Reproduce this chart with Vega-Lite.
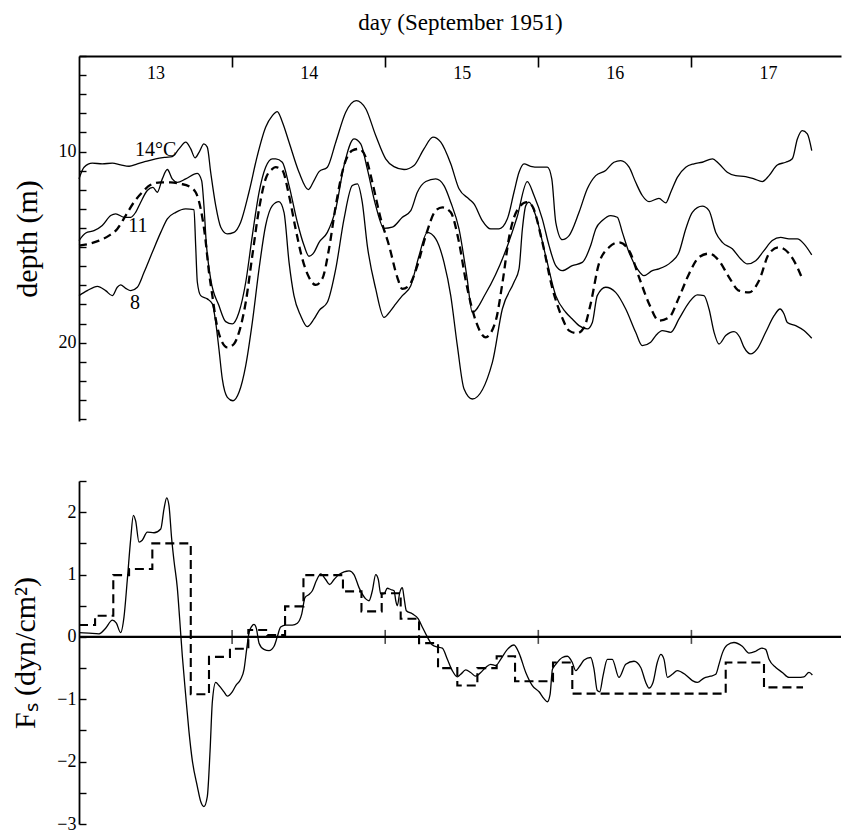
{
  "$schema": "https://vega.github.io/schema/vega-lite/v6.json",
  "background": "white",
  "padding": {"left": 10, "top": 11, "right": 0, "bottom": 0},
  "spacing": 43,
  "config": {
    "font": "Liberation Serif",
    "view": {"stroke": null},
    "axis": {"grid": false, "domainColor": "black", "tickColor": "black", "labelColor": "black", "titleColor": "black", "labelFont": "Liberation Serif", "titleFont": "Liberation Serif", "titleFontWeight": "normal", "labelOverlap": false, "labelFlush": false}
  },
  "datasets": {
    "iso": [
      {"s":"14","day":13.000,"depth":11.43},{"s":"14","day":13.033,"depth":10.82},{"s":"14","day":13.087,"depth":10.61},{"s":"14","day":13.152,"depth":10.64},{"s":"14","day":13.218,"depth":10.61},{"s":"14","day":13.272,"depth":10.70},{"s":"14","day":13.327,"depth":10.77},{"s":"14","day":13.381,"depth":10.64},{"s":"14","day":13.436,"depth":10.52},{"s":"14","day":13.501,"depth":10.38},{"s":"14","day":13.566,"depth":10.30},{"s":"14","day":13.609,"depth":10.26},{"s":"14","day":13.653,"depth":9.86},{"s":"14","day":13.697,"depth":9.51},{"s":"14","day":13.730,"depth":9.86},{"s":"14","day":13.758,"depth":10.33},{"s":"14","day":13.784,"depth":10.04},{"s":"14","day":13.816,"depth":9.60},{"s":"14","day":13.838,"depth":9.77},{"s":"14","day":13.860,"depth":11.08},{"s":"14","day":13.893,"depth":12.83},{"s":"14","day":13.926,"depth":13.96},{"s":"14","day":13.969,"depth":14.31},{"s":"14","day":14.012,"depth":14.23},{"s":"14","day":14.056,"depth":13.70},{"s":"14","day":14.110,"depth":12.13},{"s":"14","day":14.165,"depth":10.21},{"s":"14","day":14.219,"depth":8.73},{"s":"14","day":14.263,"depth":8.12},{"s":"14","day":14.295,"depth":7.91},{"s":"14","day":14.328,"depth":8.45},{"s":"14","day":14.372,"depth":9.51},{"s":"14","day":14.437,"depth":11.08},{"s":"14","day":14.498,"depth":11.99},{"s":"14","day":14.535,"depth":11.52},{"s":"14","day":14.568,"depth":11.05},{"s":"14","day":14.622,"depth":10.82},{"s":"14","day":14.677,"depth":9.51},{"s":"14","day":14.742,"depth":7.94},{"s":"14","day":14.811,"depth":7.33},{"s":"14","day":14.873,"depth":7.76},{"s":"14","day":14.938,"depth":9.16},{"s":"14","day":15.003,"depth":10.38},{"s":"14","day":15.057,"depth":10.79},{"s":"14","day":15.123,"depth":10.94},{"s":"14","day":15.188,"depth":10.73},{"s":"14","day":15.253,"depth":9.86},{"s":"14","day":15.312,"depth":9.25},{"s":"14","day":15.363,"depth":9.51},{"s":"14","day":15.428,"depth":10.64},{"s":"14","day":15.482,"depth":11.95},{"s":"14","day":15.547,"depth":12.48},{"s":"14","day":15.580,"depth":12.74},{"s":"14","day":15.634,"depth":13.61},{"s":"14","day":15.689,"depth":14.05},{"s":"14","day":15.743,"depth":14.05},{"s":"14","day":15.798,"depth":13.52},{"s":"14","day":15.841,"depth":12.13},{"s":"14","day":15.874,"depth":11.08},{"s":"14","day":15.907,"depth":10.64},{"s":"14","day":15.950,"depth":10.77},{"s":"14","day":16.005,"depth":10.82},{"s":"14","day":16.059,"depth":10.82},{"s":"14","day":16.088,"depth":11.43},{"s":"14","day":16.114,"depth":13.70},{"s":"14","day":16.157,"depth":14.61},{"s":"14","day":16.201,"depth":14.40},{"s":"14","day":16.266,"depth":13.18},{"s":"14","day":16.320,"depth":11.95},{"s":"14","day":16.375,"depth":11.26},{"s":"14","day":16.440,"depth":10.99},{"s":"14","day":16.494,"depth":10.56},{"s":"14","day":16.538,"depth":10.47},{"s":"14","day":16.593,"depth":10.82},{"s":"14","day":16.636,"depth":11.61},{"s":"14","day":16.679,"depth":12.30},{"s":"14","day":16.723,"depth":12.62},{"s":"14","day":16.788,"depth":12.45},{"s":"14","day":16.832,"depth":12.69},{"s":"14","day":16.865,"depth":12.13},{"s":"14","day":16.908,"depth":11.35},{"s":"14","day":16.963,"depth":10.82},{"s":"14","day":17.017,"depth":10.64},{"s":"14","day":17.071,"depth":10.56},{"s":"14","day":17.137,"depth":10.38},{"s":"14","day":17.180,"depth":10.64},{"s":"14","day":17.234,"depth":11.08},{"s":"14","day":17.289,"depth":11.26},{"s":"14","day":17.354,"depth":11.31},{"s":"14","day":17.409,"depth":11.43},{"s":"14","day":17.463,"depth":11.57},{"s":"14","day":17.507,"depth":11.26},{"s":"14","day":17.561,"depth":10.70},{"s":"14","day":17.616,"depth":10.56},{"s":"14","day":17.659,"depth":10.38},{"s":"14","day":17.692,"depth":9.34},{"s":"14","day":17.724,"depth":8.90},{"s":"14","day":17.757,"depth":9.07},{"s":"14","day":17.786,"depth":9.95},
      {"s":"11","day":13.000,"depth":14.66},{"s":"11","day":13.044,"depth":14.26},{"s":"11","day":13.098,"depth":14.14},{"s":"11","day":13.152,"depth":13.87},{"s":"11","day":13.207,"depth":13.35},{"s":"11","day":13.240,"depth":13.26},{"s":"11","day":13.294,"depth":13.44},{"s":"11","day":13.338,"depth":13.44},{"s":"11","day":13.370,"depth":13.18},{"s":"11","day":13.403,"depth":12.65},{"s":"11","day":13.446,"depth":12.04},{"s":"11","day":13.483,"depth":11.87},{"s":"11","day":13.511,"depth":12.13},{"s":"11","day":13.544,"depth":11.43},{"s":"11","day":13.577,"depth":10.94},{"s":"11","day":13.609,"depth":11.43},{"s":"11","day":13.642,"depth":11.61},{"s":"11","day":13.697,"depth":11.43},{"s":"11","day":13.773,"depth":11.14},{"s":"11","day":13.801,"depth":11.52},{"s":"11","day":13.816,"depth":12.83},{"s":"11","day":13.831,"depth":14.75},{"s":"11","day":13.860,"depth":16.66},{"s":"11","day":13.914,"depth":18.06},{"s":"11","day":13.958,"depth":18.90},{"s":"11","day":14.001,"depth":19.02},{"s":"11","day":14.045,"depth":18.41},{"s":"11","day":14.089,"depth":16.84},{"s":"11","day":14.132,"depth":14.40},{"s":"11","day":14.176,"depth":12.13},{"s":"11","day":14.219,"depth":10.82},{"s":"11","day":14.263,"depth":10.38},{"s":"11","day":14.285,"depth":10.38},{"s":"11","day":14.328,"depth":10.56},{"s":"11","day":14.372,"depth":11.78},{"s":"11","day":14.426,"depth":13.70},{"s":"11","day":14.470,"depth":14.92},{"s":"11","day":14.502,"depth":15.48},{"s":"11","day":14.535,"depth":15.27},{"s":"11","day":14.568,"depth":14.75},{"s":"11","day":14.622,"depth":14.23},{"s":"11","day":14.677,"depth":13.00},{"s":"11","day":14.731,"depth":10.73},{"s":"11","day":14.796,"depth":9.34},{"s":"11","day":14.840,"depth":9.60},{"s":"11","day":14.883,"depth":10.91},{"s":"11","day":14.938,"depth":12.83},{"s":"11","day":14.992,"depth":14.02},{"s":"11","day":15.046,"depth":13.96},{"s":"11","day":15.112,"depth":13.44},{"s":"11","day":15.167,"depth":13.09},{"s":"11","day":15.210,"depth":12.13},{"s":"11","day":15.265,"depth":11.57},{"s":"11","day":15.330,"depth":11.43},{"s":"11","day":15.384,"depth":11.78},{"s":"11","day":15.428,"depth":12.65},{"s":"11","day":15.482,"depth":14.05},{"s":"11","day":15.534,"depth":16.58},{"s":"11","day":15.569,"depth":18.41},{"s":"11","day":15.656,"depth":17.43},{"s":"11","day":15.787,"depth":15.18},{"s":"11","day":15.861,"depth":13.44},{"s":"11","day":15.928,"depth":11.57},{"s":"11","day":15.972,"depth":12.30},{"s":"11","day":16.026,"depth":13.52},{"s":"11","day":16.070,"depth":14.92},{"s":"11","day":16.114,"depth":15.97},{"s":"11","day":16.157,"depth":16.23},{"s":"11","day":16.222,"depth":15.97},{"s":"11","day":16.287,"depth":15.80},{"s":"11","day":16.342,"depth":14.92},{"s":"11","day":16.375,"depth":14.05},{"s":"11","day":16.418,"depth":13.61},{"s":"11","day":16.473,"depth":13.35},{"s":"11","day":16.516,"depth":13.44},{"s":"11","day":16.549,"depth":14.23},{"s":"11","day":16.592,"depth":15.27},{"s":"11","day":16.647,"depth":16.14},{"s":"11","day":16.690,"depth":16.49},{"s":"11","day":16.745,"depth":16.23},{"s":"11","day":16.788,"depth":16.14},{"s":"11","day":16.865,"depth":15.80},{"s":"11","day":16.919,"depth":15.27},{"s":"11","day":16.963,"depth":14.05},{"s":"11","day":17.006,"depth":13.18},{"s":"11","day":17.071,"depth":12.86},{"s":"11","day":17.115,"depth":13.09},{"s":"11","day":17.159,"depth":14.23},{"s":"11","day":17.202,"depth":14.75},{"s":"11","day":17.267,"depth":15.09},{"s":"11","day":17.322,"depth":15.62},{"s":"11","day":17.365,"depth":15.88},{"s":"11","day":17.420,"depth":15.71},{"s":"11","day":17.474,"depth":15.18},{"s":"11","day":17.528,"depth":14.66},{"s":"11","day":17.583,"depth":14.49},{"s":"11","day":17.637,"depth":14.57},{"s":"11","day":17.692,"depth":14.57},{"s":"11","day":17.735,"depth":14.83},{"s":"11","day":17.786,"depth":15.41},
      {"s":"d","day":13.000,"depth":14.92},{"s":"d","day":13.065,"depth":14.83},{"s":"d","day":13.131,"depth":14.66},{"s":"d","day":13.196,"depth":14.40},{"s":"d","day":13.250,"depth":14.05},{"s":"d","day":13.305,"depth":13.35},{"s":"d","day":13.359,"depth":12.65},{"s":"d","day":13.413,"depth":12.13},{"s":"d","day":13.468,"depth":11.74},{"s":"d","day":13.534,"depth":11.61},{"s":"d","day":13.599,"depth":11.61},{"s":"d","day":13.664,"depth":11.69},{"s":"d","day":13.718,"depth":11.82},{"s":"d","day":13.762,"depth":12.13},{"s":"d","day":13.795,"depth":13.00},{"s":"d","day":13.823,"depth":14.40},{"s":"d","day":13.849,"depth":16.32},{"s":"d","day":13.871,"depth":17.54},{"s":"d","day":13.893,"depth":18.76},{"s":"d","day":13.926,"depth":19.81},{"s":"d","day":13.969,"depth":20.25},{"s":"d","day":14.012,"depth":20.07},{"s":"d","day":14.045,"depth":19.46},{"s":"d","day":14.089,"depth":17.89},{"s":"d","day":14.132,"depth":15.45},{"s":"d","day":14.176,"depth":13.00},{"s":"d","day":14.219,"depth":11.43},{"s":"d","day":14.263,"depth":10.91},{"s":"d","day":14.285,"depth":10.82},{"s":"d","day":14.328,"depth":10.99},{"s":"d","day":14.372,"depth":12.30},{"s":"d","day":14.415,"depth":14.05},{"s":"d","day":14.459,"depth":15.62},{"s":"d","day":14.502,"depth":16.58},{"s":"d","day":14.546,"depth":16.98},{"s":"d","day":14.589,"depth":16.66},{"s":"d","day":14.633,"depth":15.09},{"s":"d","day":14.677,"depth":12.83},{"s":"d","day":14.731,"depth":10.73},{"s":"d","day":14.785,"depth":9.95},{"s":"d","day":14.829,"depth":9.86},{"s":"d","day":14.873,"depth":10.30},{"s":"d","day":14.916,"depth":11.61},{"s":"d","day":14.971,"depth":13.52},{"s":"d","day":15.025,"depth":14.92},{"s":"d","day":15.079,"depth":16.58},{"s":"d","day":15.112,"depth":17.19},{"s":"d","day":15.155,"depth":17.02},{"s":"d","day":15.210,"depth":15.97},{"s":"d","day":15.265,"depth":14.40},{"s":"d","day":15.330,"depth":13.09},{"s":"d","day":15.373,"depth":12.92},{"s":"d","day":15.428,"depth":13.18},{"s":"d","day":15.482,"depth":14.75},{"s":"d","day":15.526,"depth":16.75},{"s":"d","day":15.591,"depth":18.85},{"s":"d","day":15.656,"depth":19.72},{"s":"d","day":15.722,"depth":18.85},{"s":"d","day":15.765,"depth":16.91},{"s":"d","day":15.809,"depth":14.49},{"s":"d","day":15.874,"depth":12.92},{"s":"d","day":15.926,"depth":12.65},{"s":"d","day":15.959,"depth":12.83},{"s":"d","day":16.024,"depth":14.66},{"s":"d","day":16.090,"depth":17.10},{"s":"d","day":16.155,"depth":18.68},{"s":"d","day":16.201,"depth":19.37},{"s":"d","day":16.253,"depth":19.51},{"s":"d","day":16.299,"depth":19.20},{"s":"d","day":16.342,"depth":17.96},{"s":"d","day":16.396,"depth":15.86},{"s":"d","day":16.462,"depth":15.01},{"s":"d","day":16.527,"depth":14.75},{"s":"d","day":16.593,"depth":15.18},{"s":"d","day":16.658,"depth":16.58},{"s":"d","day":16.723,"depth":17.96},{"s":"d","day":16.788,"depth":18.85},{"s":"d","day":16.854,"depth":18.68},{"s":"d","day":16.919,"depth":17.63},{"s":"d","day":16.985,"depth":16.39},{"s":"d","day":17.050,"depth":15.53},{"s":"d","day":17.115,"depth":15.34},{"s":"d","day":17.180,"depth":15.71},{"s":"d","day":17.246,"depth":16.58},{"s":"d","day":17.311,"depth":17.28},{"s":"d","day":17.377,"depth":17.37},{"s":"d","day":17.442,"depth":16.75},{"s":"d","day":17.507,"depth":15.34},{"s":"d","day":17.572,"depth":15.01},{"s":"d","day":17.638,"depth":15.34},{"s":"d","day":17.692,"depth":16.06},{"s":"d","day":17.724,"depth":16.66},
      {"s":"8","day":13.000,"depth":17.54},{"s":"8","day":13.054,"depth":17.28},{"s":"8","day":13.120,"depth":17.05},{"s":"8","day":13.174,"depth":17.28},{"s":"8","day":13.218,"depth":17.54},{"s":"8","day":13.250,"depth":17.10},{"s":"8","day":13.272,"depth":16.98},{"s":"8","day":13.305,"depth":17.16},{"s":"8","day":13.338,"depth":17.28},{"s":"8","day":13.381,"depth":17.10},{"s":"8","day":13.425,"depth":16.32},{"s":"8","day":13.479,"depth":15.27},{"s":"8","day":13.534,"depth":14.23},{"s":"8","day":13.577,"depth":13.52},{"s":"8","day":13.632,"depth":13.18},{"s":"8","day":13.697,"depth":13.00},{"s":"8","day":13.751,"depth":13.04},{"s":"8","day":13.762,"depth":14.92},{"s":"8","day":13.773,"depth":16.84},{"s":"8","day":13.795,"depth":17.54},{"s":"8","day":13.838,"depth":17.71},{"s":"8","day":13.871,"depth":17.97},{"s":"8","day":13.893,"depth":18.94},{"s":"8","day":13.914,"depth":20.33},{"s":"8","day":13.936,"depth":21.90},{"s":"8","day":13.969,"depth":22.86},{"s":"8","day":14.006,"depth":23.04},{"s":"8","day":14.045,"depth":22.60},{"s":"8","day":14.089,"depth":21.20},{"s":"8","day":14.132,"depth":18.94},{"s":"8","day":14.176,"depth":16.14},{"s":"8","day":14.219,"depth":13.87},{"s":"8","day":14.263,"depth":12.83},{"s":"8","day":14.306,"depth":12.62},{"s":"8","day":14.339,"depth":13.18},{"s":"8","day":14.372,"depth":15.80},{"s":"8","day":14.404,"depth":17.54},{"s":"8","day":14.448,"depth":18.59},{"s":"8","day":14.491,"depth":19.16},{"s":"8","day":14.535,"depth":18.76},{"s":"8","day":14.568,"depth":18.32},{"s":"8","day":14.622,"depth":17.89},{"s":"8","day":14.677,"depth":16.14},{"s":"8","day":14.731,"depth":13.52},{"s":"8","day":14.785,"depth":11.78},{"s":"8","day":14.818,"depth":11.69},{"s":"8","day":14.850,"depth":12.65},{"s":"8","day":14.883,"depth":14.92},{"s":"8","day":14.938,"depth":17.19},{"s":"8","day":14.992,"depth":18.68},{"s":"8","day":15.036,"depth":18.32},{"s":"8","day":15.069,"depth":17.97},{"s":"8","day":15.112,"depth":17.54},{"s":"8","day":15.167,"depth":17.02},{"s":"8","day":15.221,"depth":15.45},{"s":"8","day":15.275,"depth":14.23},{"s":"8","day":15.330,"depth":14.57},{"s":"8","day":15.384,"depth":15.80},{"s":"8","day":15.428,"depth":17.54},{"s":"8","day":15.471,"depth":20.16},{"s":"8","day":15.515,"depth":22.43},{"s":"8","day":15.569,"depth":22.95},{"s":"8","day":15.700,"depth":21.03},{"s":"8","day":15.765,"depth":18.24},{"s":"8","day":15.841,"depth":16.84},{"s":"8","day":15.874,"depth":16.14},{"s":"8","day":15.896,"depth":14.05},{"s":"8","day":15.918,"depth":12.83},{"s":"8","day":15.939,"depth":12.65},{"s":"8","day":15.983,"depth":13.35},{"s":"8","day":16.048,"depth":15.45},{"s":"8","day":16.114,"depth":17.54},{"s":"8","day":16.179,"depth":18.41},{"s":"8","day":16.222,"depth":18.76},{"s":"8","day":16.266,"depth":19.11},{"s":"8","day":16.320,"depth":19.28},{"s":"8","day":16.353,"depth":18.94},{"s":"8","day":16.385,"depth":17.54},{"s":"8","day":16.440,"depth":17.10},{"s":"8","day":16.505,"depth":17.37},{"s":"8","day":16.571,"depth":18.24},{"s":"8","day":16.636,"depth":19.46},{"s":"8","day":16.679,"depth":20.16},{"s":"8","day":16.734,"depth":19.98},{"s":"8","day":16.767,"depth":19.63},{"s":"8","day":16.810,"depth":19.37},{"s":"8","day":16.865,"depth":19.46},{"s":"8","day":16.919,"depth":18.76},{"s":"8","day":16.985,"depth":17.89},{"s":"8","day":17.039,"depth":17.50},{"s":"8","day":17.082,"depth":17.54},{"s":"8","day":17.115,"depth":18.24},{"s":"8","day":17.148,"depth":19.46},{"s":"8","day":17.180,"depth":20.07},{"s":"8","day":17.224,"depth":19.63},{"s":"8","day":17.278,"depth":19.42},{"s":"8","day":17.316,"depth":19.72},{"s":"8","day":17.344,"depth":20.25},{"s":"8","day":17.387,"depth":20.59},{"s":"8","day":17.430,"depth":20.33},{"s":"8","day":17.485,"depth":19.46},{"s":"8","day":17.540,"depth":18.59},{"s":"8","day":17.579,"depth":18.24},{"s":"8","day":17.605,"depth":18.50},{"s":"8","day":17.626,"depth":18.94},{"s":"8","day":17.681,"depth":19.11},{"s":"8","day":17.735,"depth":19.37},{"s":"8","day":17.786,"depth":19.77}
    ],
    "labels": [
      {"day":13.501,"depth":9.90,"t":"14°C"},
      {"day":13.385,"depth":13.87,"t":"11"},
      {"day":13.366,"depth":17.91,"t":"8"}
    ],
    "fs": [
      {"day":13.000,"v":0.07},{"day":13.065,"v":0.06},{"day":13.131,"v":0.05},{"day":13.174,"v":0.14},{"day":13.218,"v":0.27},{"day":13.244,"v":0.22},{"day":13.272,"v":0.07},{"day":13.294,"v":0.32},{"day":13.315,"v":0.90},{"day":13.338,"v":1.58},{"day":13.355,"v":1.95},{"day":13.370,"v":1.86},{"day":13.392,"v":1.52},{"day":13.413,"v":1.55},{"day":13.446,"v":1.68},{"day":13.490,"v":1.67},{"day":13.534,"v":1.73},{"day":13.555,"v":2.05},{"day":13.573,"v":2.23},{"day":13.588,"v":2.10},{"day":13.605,"v":1.58},{"day":13.621,"v":1.21},{"day":13.642,"v":0.79},{"day":13.658,"v":0.27},{"day":13.675,"v":-0.31},{"day":13.697,"v":-0.94},{"day":13.718,"v":-1.51},{"day":13.740,"v":-1.98},{"day":13.773,"v":-2.40},{"day":13.795,"v":-2.64},{"day":13.816,"v":-2.72},{"day":13.838,"v":-2.56},{"day":13.856,"v":-1.83},{"day":13.871,"v":-1.04},{"day":13.893,"v":-0.73},{"day":13.914,"v":-0.78},{"day":13.947,"v":-0.88},{"day":13.969,"v":-0.95},{"day":14.001,"v":-0.88},{"day":14.024,"v":-0.78},{"day":14.056,"v":-0.68},{"day":14.078,"v":-0.52},{"day":14.095,"v":-0.20},{"day":14.110,"v":0.06},{"day":14.128,"v":0.17},{"day":14.143,"v":0.20},{"day":14.158,"v":0.14},{"day":14.176,"v":-0.10},{"day":14.208,"v":-0.20},{"day":14.241,"v":-0.22},{"day":14.274,"v":-0.15},{"day":14.295,"v":0.00},{"day":14.317,"v":0.16},{"day":14.350,"v":0.19},{"day":14.393,"v":0.19},{"day":14.426,"v":0.22},{"day":14.455,"v":0.37},{"day":14.476,"v":0.63},{"day":14.502,"v":0.68},{"day":14.524,"v":0.74},{"day":14.550,"v":0.90},{"day":14.579,"v":1.01},{"day":14.611,"v":0.92},{"day":14.637,"v":0.84},{"day":14.666,"v":0.92},{"day":14.698,"v":1.00},{"day":14.764,"v":1.06},{"day":14.796,"v":1.00},{"day":14.829,"v":0.79},{"day":14.873,"v":0.61},{"day":14.894,"v":0.58},{"day":14.916,"v":0.74},{"day":14.938,"v":1.00},{"day":14.955,"v":0.92},{"day":14.971,"v":0.69},{"day":14.992,"v":0.69},{"day":15.014,"v":0.78},{"day":15.036,"v":0.76},{"day":15.058,"v":0.74},{"day":15.069,"v":0.58},{"day":15.079,"v":0.50},{"day":15.095,"v":0.71},{"day":15.112,"v":0.79},{"day":15.123,"v":0.63},{"day":15.138,"v":0.42},{"day":15.177,"v":0.37},{"day":15.216,"v":0.29},{"day":15.242,"v":0.16},{"day":15.275,"v":0.00},{"day":15.308,"v":-0.13},{"day":15.340,"v":-0.16},{"day":15.373,"v":-0.18},{"day":15.406,"v":-0.36},{"day":15.438,"v":-0.54},{"day":15.471,"v":-0.64},{"day":15.493,"v":-0.60},{"day":15.526,"v":-0.53},{"day":15.558,"v":-0.57},{"day":15.591,"v":-0.63},{"day":15.624,"v":-0.57},{"day":15.656,"v":-0.49},{"day":15.689,"v":-0.44},{"day":15.722,"v":-0.46},{"day":15.754,"v":-0.36},{"day":15.798,"v":-0.20},{"day":15.841,"v":-0.13},{"day":15.874,"v":-0.26},{"day":15.918,"v":-0.57},{"day":15.961,"v":-0.78},{"day":16.005,"v":-0.88},{"day":16.037,"v":-0.99},{"day":16.059,"v":-1.04},{"day":16.077,"v":-0.92},{"day":16.092,"v":-0.52},{"day":16.114,"v":-0.44},{"day":16.157,"v":-0.33},{"day":16.190,"v":-0.31},{"day":16.222,"v":-0.41},{"day":16.244,"v":-0.54},{"day":16.270,"v":-0.47},{"day":16.299,"v":-0.37},{"day":16.342,"v":-0.33},{"day":16.364,"v":-0.52},{"day":16.385,"v":-0.86},{"day":16.401,"v":-0.88},{"day":16.423,"v":-0.62},{"day":16.451,"v":-0.36},{"day":16.483,"v":-0.36},{"day":16.527,"v":-0.65},{"day":16.571,"v":-0.44},{"day":16.625,"v":-0.39},{"day":16.669,"v":-0.49},{"day":16.702,"v":-0.73},{"day":16.723,"v":-0.82},{"day":16.749,"v":-0.73},{"day":16.777,"v":-0.41},{"day":16.800,"v":-0.28},{"day":16.821,"v":-0.36},{"day":16.843,"v":-0.65},{"day":16.875,"v":-0.60},{"day":16.908,"v":-0.54},{"day":16.963,"v":-0.61},{"day":17.006,"v":-0.70},{"day":17.039,"v":-0.73},{"day":17.082,"v":-0.66},{"day":17.126,"v":-0.63},{"day":17.159,"v":-0.60},{"day":17.180,"v":-0.44},{"day":17.202,"v":-0.26},{"day":17.234,"v":-0.13},{"day":17.278,"v":-0.09},{"day":17.332,"v":-0.15},{"day":17.376,"v":-0.26},{"day":17.420,"v":-0.23},{"day":17.459,"v":-0.18},{"day":17.485,"v":-0.20},{"day":17.507,"v":-0.36},{"day":17.551,"v":-0.49},{"day":17.594,"v":-0.57},{"day":17.637,"v":-0.65},{"day":17.692,"v":-0.65},{"day":17.735,"v":-0.64},{"day":17.768,"v":-0.57},{"day":17.790,"v":-0.61}
    ],
    "steps": [
      {"day":13.000,"v":0.19},{"day":13.105,"v":0.34},{"day":13.224,"v":0.99},{"day":13.327,"v":1.09},{"day":13.479,"v":1.50},{"day":13.730,"v":-0.92},{"day":13.849,"v":-0.32},{"day":13.986,"v":-0.19},{"day":14.106,"v":0.11},{"day":14.230,"v":0.03},{"day":14.346,"v":0.49},{"day":14.466,"v":0.99},{"day":14.724,"v":0.73},{"day":14.845,"v":0.41},{"day":14.977,"v":0.70},{"day":15.101,"v":0.29},{"day":15.221,"v":-0.10},{"day":15.345,"v":-0.50},{"day":15.471,"v":-0.78},{"day":15.602,"v":-0.50},{"day":15.728,"v":-0.31},{"day":15.848,"v":-0.71},{"day":16.096,"v":-0.41},{"day":16.222,"v":-0.91},{"day":17.224,"v":-0.41},{"day":17.474,"v":-0.81},{"day":17.729,"v":-0.81}
    ],
    "dayticks": [{"day":14},{"day":15},{"day":16},{"day":17}]
  },
  "vconcat": [
    {
      "width": 762,
      "height": 365,
      "resolve": {"axis": {"x": "independent", "y": "independent"}},
      "layer": [
        {
          "data": {"name": "iso"},
          "transform": [{"filter": "datum.s !== 'd'"}],
          "mark": {"type": "line", "color": "black", "strokeWidth": 1.3, "interpolate": "monotone", "strokeJoin": "round"},
          "encoding": {
            "x": {"field": "day", "type": "quantitative",
              "scale": {"domain": [13, 17.977], "nice": false, "zero": false},
              "axis": {"orient": "top", "values": [13.5, 14.5, 15.5, 16.5, 17.5], "ticks": false, "labelPadding": -17, "labelBaseline": "middle", "labelFontSize": 18, "labelExpr": "format(datum.value - 0.5, 'd')", "domainWidth": 1.8, "title": "day (September 1951)", "titleFontSize": 23, "titlePadding": 22}},
            "y": {"field": "depth", "type": "quantitative",
              "scale": {"domain": [5, 24.1], "reverse": true, "nice": false, "zero": false},
              "axis": {"orient": "left", "values": [5,6,7,8,9,10,11,12,13,14,15,16,17,18,19,20,21,22,23,24], "labelExpr": "datum.value === 10 || datum.value === 20 ? format(datum.value, 'd') : ''", "tickSize": -7, "tickWidth": 1.4, "labelPadding": 10, "labelFontSize": 18, "domainWidth": 1.8, "title": "depth (m)", "titleFontSize": 30, "titlePadding": 16}},
            "detail": {"field": "s", "type": "nominal"}
          }
        },
        {
          "data": {"name": "iso"},
          "transform": [{"filter": "datum.s === 'd'"}],
          "mark": {"type": "line", "color": "black", "strokeWidth": 2.3, "strokeDash": [8, 5], "interpolate": "monotone"},
          "encoding": {
            "x": {"field": "day", "type": "quantitative", "axis": null},
            "y": {"field": "depth", "type": "quantitative", "axis": null}
          }
        },
        {
          "data": {"name": "labels"},
          "mark": {"type": "text", "font": "Liberation Serif", "fontSize": 20, "color": "black"},
          "encoding": {
            "x": {"field": "day", "type": "quantitative",
              "axis": {"orient": "top", "values": [14, 15, 16, 17], "labels": false, "domain": false, "tickSize": -11, "tickWidth": 1.6, "title": null}},
            "y": {"field": "depth", "type": "quantitative", "axis": null},
            "text": {"field": "t"}
          }
        }
      ]
    },
    {
      "width": 762,
      "height": 343,
      "resolve": {"axis": {"x": "independent", "y": "independent"}},
      "layer": [
        {
          "data": {"name": "fs"},
          "mark": {"type": "line", "color": "black", "strokeWidth": 1.3, "interpolate": "monotone"},
          "encoding": {
            "x": {"field": "day", "type": "quantitative", "scale": {"domain": [13, 17.977], "nice": false, "zero": false}, "axis": null},
            "y": {"field": "v", "type": "quantitative",
              "scale": {"domain": [-3, 2.5], "nice": false, "zero": false},
              "axis": {"orient": "left", "values": [-3, -2.5, -2, -1.5, -1, -0.5, 0, 0.5, 1, 1.5, 2, 2.5], "labelExpr": "datum.value % 1 === 0 ? format(datum.value, 'd') : ''", "tickSize": -7, "tickWidth": 1.4, "labelPadding": 10, "labelFontSize": 18, "domainWidth": 1.8, "title": "Fₛ (dyn/cm²)", "titleFontSize": 30, "titlePadding": 16}}
          }
        },
        {
          "data": {"name": "steps"},
          "mark": {"type": "line", "color": "black", "strokeWidth": 2.1, "strokeDash": [9, 5], "interpolate": "step-after"},
          "encoding": {
            "x": {"field": "day", "type": "quantitative", "axis": null},
            "y": {"field": "v", "type": "quantitative", "axis": null}
          }
        },
        {
          "data": {"values": [{}]},
          "mark": {"type": "rule", "color": "black", "strokeWidth": 2.2},
          "encoding": {"y": {"datum": 0, "type": "quantitative", "axis": null}}
        },
        {
          "data": {"name": "dayticks"},
          "mark": {"type": "tick", "orient": "vertical", "size": 14, "thickness": 1.6, "color": "black"},
          "encoding": {
            "x": {"field": "day", "type": "quantitative", "axis": null},
            "y": {"datum": 0, "type": "quantitative", "axis": null}
          }
        }
      ]
    }
  ]
}
